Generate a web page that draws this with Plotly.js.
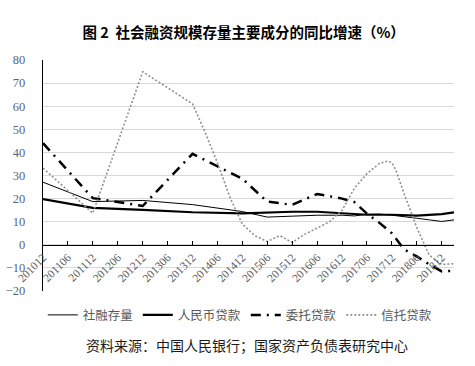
<!DOCTYPE html>
<html>
<head>
<meta charset="utf-8">
<script src="https://cdn.plot.ly/plotly-3.0.1.min.js"></script>
<style>
  html, body { margin: 0; padding: 0; background: #fff; }
  #chart { width: 475px; height: 366px; }
</style>
</head>
<body>
<div id="chart"></div>
<script>
// 社融存量 (AFRE stock growth)
const afreDates = ["2010-12-01","2011-12-01","2012-12-01","2013-12-01","2014-12-01","2015-06-01","2015-12-01","2016-06-01","2016-12-01","2017-03-01","2017-06-01","2017-09-01","2017-12-01","2018-03-01","2018-06-01","2018-09-01","2018-12-01","2019-03-01"];
const afreValues = [27.1, 18.7, 19.2, 17.4, 14.4, 12.0, 12.4, 12.8, 12.8, 12.5, 13.2, 13.3, 12.8, 12.0, 11.5, 10.8, 10.1, 10.8];

// 人民币贷款 (RMB loans)
const loanDates = ["2010-12-01","2011-12-01","2012-12-01","2013-12-01","2014-12-01","2015-06-01","2015-12-01","2016-06-01","2016-12-01","2017-06-01","2017-12-01","2018-06-01","2018-12-01","2019-03-01"];
const loanValues = [19.8, 16.0, 15.1, 14.1, 13.6, 14.0, 14.3, 14.3, 13.5, 13.0, 13.0, 12.6, 13.3, 14.0];

// 委托贷款 (entrusted loans)
const entrustDates = ["2010-12-01","2011-12-01","2012-06-01","2012-12-01","2013-12-01","2014-06-01","2014-12-01","2015-06-01","2015-12-01","2016-06-01","2016-12-01","2017-03-01","2017-06-01","2017-09-01","2017-12-01","2018-03-01","2018-06-01","2018-09-01","2018-12-01","2019-03-01"];
const entrustValues = [44.0, 20.2, 18.5, 16.8, 39.4, 33.9, 28.6, 18.7, 17.3, 22.0, 20.0, 18.5, 13.5, 9.5, 5.0, -2.0, -5.0, -8.5, -11.5, -11.2];

// 信托贷款 (trust loans)
const trustDates = ["2010-12-01","2011-12-01","2012-12-01","2013-06-01","2013-12-01","2014-03-01","2014-06-01","2014-09-01","2014-12-01","2015-03-01","2015-06-01","2015-09-01","2015-12-01","2016-03-01","2016-06-01","2016-09-01","2016-12-01","2017-03-01","2017-06-01","2017-09-01","2017-11-01","2017-12-01","2018-01-01","2018-03-01","2018-06-01","2018-09-01","2018-12-01","2019-03-01"];
const trustValues = [33.2, 13.7, 74.9, 68.0, 61.0, 49.0, 35.5, 20.5, 9.0, 4.0, 1.4, 4.0, 1.0, 4.5, 7.2, 10.0, 15.0, 24.5, 30.8, 35.3, 36.2, 35.6, 32.0, 22.0, 7.5, -4.5, -8.5, -8.2];

const seriesNames = ["社融存量", "人民币贷款", "委托贷款", "信托贷款"];
const titleText = "图 2  社会融资规模存量主要成分的同比增速（%）";
const sourceText = "资料来源：中国人民银行；国家资产负债表研究中心";

const traces = [
  { x: afreDates, y: afreValues, name: seriesNames[0], type: "scatter", mode: "lines",
    line: { color: "#000000", width: 1 } },
  { x: loanDates, y: loanValues, name: seriesNames[1], type: "scatter", mode: "lines",
    line: { color: "#000000", width: 2.2 } },
  { x: entrustDates, y: entrustValues, name: seriesNames[2], type: "scatter", mode: "lines",
    line: { color: "#000000", width: 2.5, dash: "10px,6px,2px,6px" } },
  { x: trustDates, y: trustValues, name: seriesNames[3], type: "scatter", mode: "lines",
    line: { color: "#909090", width: 1.6, dash: "2px,2px" } }
];

const layout = {
  width: 475, height: 366,
  margin: { l: 43, r: 21, t: 60, b: 75 },
  paper_bgcolor: "#ffffff", plot_bgcolor: "#ffffff",
  showlegend: true,
  title: { text: titleText, x: 0.513, xanchor: "center", y: 0.91, yanchor: "middle",
           font: { family: "Noto Sans CJK SC", size: 14.5, color: "#000000", weight: "bold" } },
  xaxis: {
    type: "date",
    range: ["2010-12-01", "2019-03-01"],
    tick0: "2010-12-01", dtick: "M6", tickformat: "%Y%m",
    tickangle: -45,
    ticks: "inside", ticklen: 4, tickcolor: "#000000", tickwidth: 1,
    showline: true, linecolor: "#000000", linewidth: 1.5,
    showgrid: false, zeroline: false,
    anchor: "free", position: 0.2,
    tickfont: { family: "Liberation Serif", size: 11.5, color: "#595959" },
    fixedrange: true
  },
  yaxis: {
    range: [-20, 80], dtick: 10, tick0: 0,
    showline: true, linecolor: "#000000", linewidth: 1.2,
    showgrid: true, gridcolor: "#d9d9d9", gridwidth: 1,
    zeroline: false, ticks: "", ticklabelstandoff: 14,
    tickfont: { family: "Liberation Serif", size: 12.5, color: "#58647a" },
    fixedrange: true
  },
  legend: {
    orientation: "h", x: 0.48, xanchor: "center", y: -0.105, yanchor: "middle",
    font: { family: "Noto Sans CJK SC", size: 12.5, color: "#595959" },
    itemwidth: 30, tracegroupgap: 0, bgcolor: "rgba(0,0,0,0)"
  },
  annotations: [{
    text: sourceText, xref: "paper", yref: "paper", x: 0.497, y: -0.234,
    xanchor: "center", yanchor: "middle", showarrow: false,
    font: { family: "Noto Sans CJK SC", size: 14, color: "#1a1a1a" }
  }]
};

Plotly.newPlot("chart", traces, layout, { displayModeBar: false, staticPlot: true });
</script>
</body>
</html>
